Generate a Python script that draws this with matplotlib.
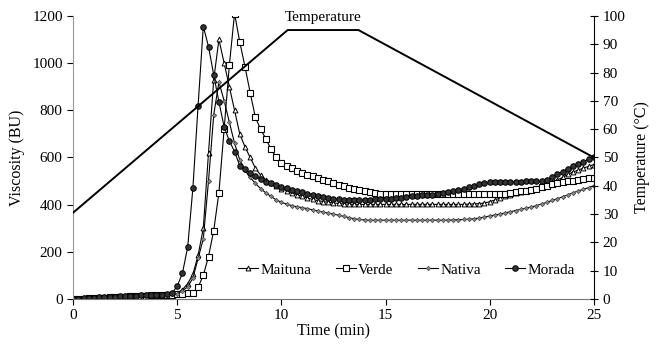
import numpy as np
import matplotlib.pyplot as plt

plt.rcParams['font.family'] = ['Liberation Serif', 'DejaVu Serif']

# time axis, one reading every 15 s (0.25 min)
time = np.linspace(0, 25, 101)

maituna = [0, 2, 3, 4, 5, 6, 7, 8, 9, 10,
           11, 12, 13, 14, 15, 16, 17, 18, 19, 21,
           25, 40, 65, 105, 185, 300, 620, 930, 1100, 1000,
           900, 800, 700, 645, 600, 555, 525, 505, 490, 478,
           468, 458, 450, 442, 435, 428, 422, 417, 413, 410,
           407, 405, 403, 402, 401, 401, 401, 401, 401, 401,
           401, 401, 401, 401, 401, 401, 401, 401, 401, 401,
           401, 401, 401, 401, 401, 401, 402, 403, 404, 407,
           412, 420, 428, 436, 442, 448, 454, 460, 465, 470,
           476, 484, 494, 505, 515, 528, 538, 546, 555, 562,
           570]

verde = [0, 1, 2, 3, 4, 5, 6, 7, 8, 9,
         10, 11, 12, 13, 14, 15, 16, 17, 18, 19,
         20, 22, 24, 26, 50, 100, 180, 290, 450, 720,
         990, 1210, 1090, 985, 875, 770, 720, 680, 635, 600,
         578, 564, 554, 544, 535, 527, 520, 512, 505, 499,
         492, 485, 478, 472, 467, 463, 459, 455, 451, 447,
         445, 443, 443, 443, 443, 443, 443, 443, 443, 443,
         443, 443, 443, 443, 443, 443, 443, 443, 443, 443,
         443, 443, 444, 447, 450, 453, 456, 459, 463, 468,
         474, 480, 487, 492, 496, 499, 502, 505, 509, 511,
         513]

nativa = [0, 2, 3, 4, 5, 6, 7, 8, 9, 10,
          11, 12, 13, 14, 15, 16, 17, 18, 19, 20,
          22, 35, 52, 88, 172, 255, 500, 780, 920, 840,
          750, 660, 590, 545, 515, 490, 468, 450, 435, 420,
          410, 402, 396, 391, 387, 383, 378, 373, 368, 364,
          360, 355, 350, 345, 340, 337, 335, 334, 334, 334,
          334, 334, 334, 334, 334, 334, 334, 334, 334, 334,
          334, 334, 334, 335, 336, 337, 338, 340, 343, 347,
          352, 356, 360, 365, 370, 375, 380, 385, 390, 396,
          403, 410, 418, 425, 433, 441, 450, 458, 465, 472,
          480]

morada = [0, 2, 4, 5, 6, 7, 8, 9, 10, 11,
          12, 13, 14, 15, 16, 17, 18, 19, 21, 25,
          55, 110, 220, 470, 820, 1155, 1070, 950, 835, 730,
          670, 625, 565, 550, 535, 520, 508, 498, 490, 482,
          476, 470, 464, 458, 452, 447, 442, 437, 432, 428,
          425, 423, 421, 420, 419, 419, 420, 421, 422, 423,
          424, 425, 427, 429, 432, 435, 437, 439, 440, 442,
          447, 451, 455, 459, 462, 468, 475, 481, 487, 491,
          494, 495, 496, 497, 497, 498, 498, 499, 499, 500,
          500, 505, 515, 528, 540, 552, 562, 572, 582, 592,
          600]

temp_time = [0, 10.3, 13.7, 25]
temp = [30.5, 95, 95, 50]

fig = plt.figure(figsize=(6.59, 3.53), dpi=100)
ax = fig.add_axes([0.111, 0.153, 0.79, 0.802])

ax.plot(time, maituna, color='black', lw=0.8, marker='^', ms=3.5, mfc='white', mec='black', mew=0.7, label='Maituna')
ax.plot(time, verde, color='black', lw=0.8, marker='s', ms=4.5, mfc='white', mec='black', mew=0.8, label='Verde')
ax.plot(time, nativa, color='black', lw=0.8, marker='D', ms=2.2, mfc='#888888', mec='#444444', mew=0.5, label='Nativa')
ax.plot(time, morada, color='black', lw=0.8, marker='o', ms=4, mfc='#333333', mec='black', mew=0.7, label='Morada')

ax.set_xlim(0, 25)
ax.set_ylim(0, 1200)
ax.set_xticks([0, 5, 10, 15, 20, 25])
ax.set_yticks(range(0, 1201, 200))
ax.set_xlabel('Time (min)', fontsize=11.5, labelpad=1)
ax.set_ylabel('Viscosity (BU)', fontsize=11.5, labelpad=5)
ax.tick_params(labelsize=11, direction='out', length=4, width=0.8)
for s in ['top', 'right']:
    ax.spines[s].set_visible(False)
ax.spines['left'].set_color('#999999')
ax.spines['bottom'].set_color('#777777')

leg = ax.legend(loc='lower right', bbox_to_anchor=(0.99, 0.03), ncol=4, frameon=False,
                fontsize=11, handlelength=1.3, handletextpad=0.15, columnspacing=1.6)

ax2 = ax.twinx()
ax2.plot(temp_time, temp, color='black', lw=1.4)
ax2.set_ylim(0, 100)
ax2.set_yticks(range(0, 101, 10))
ax2.set_ylabel('Temperature (°C)', fontsize=11.5, labelpad=6)
ax2.tick_params(labelsize=11, direction='inout', length=6, width=0.8)
for s in ['top', 'left', 'bottom']:
    ax2.spines[s].set_visible(False)
ax2.text(12, 97.3, 'Temperature', fontsize=11, ha='center', va='bottom')

fig.savefig('out.png', dpi=100)
